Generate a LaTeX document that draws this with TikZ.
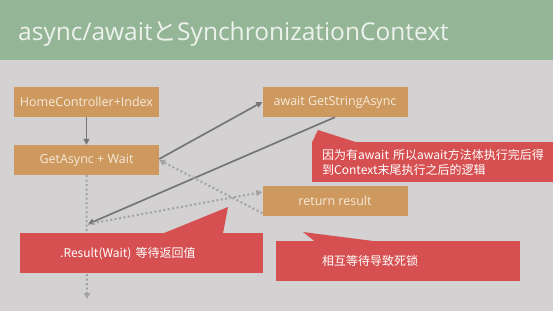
\documentclass[tikz,border=0pt]{standalone}
\usepackage{fontspec}
\setmainfont{Open Sans}
\newfontfamily\cjk{Noto Sans CJK SC}
\usetikzlibrary{arrows.meta}
\definecolor{TitleGreen}{RGB}{148,181,150}
\definecolor{TitleText}{RGB}{236,242,236}
\definecolor{SlideGray}{RGB}{211,209,209}
\definecolor{BoxOrange}{RGB}{206,153,94}
\definecolor{BoxText}{RGB}{246,234,218}
\definecolor{NoteRed}{RGB}{214,80,82}
\definecolor{ArrowGray}{RGB}{118,118,118}
\definecolor{DotGray}{RGB}{163,163,163}

\begin{document}
\begin{tikzpicture}[x=1pt, y=-1pt,
                box/.style={fill=BoxOrange, minimum width=145pt, minimum height=30pt, inner sep=0pt, text=BoxText, font=\fontsize{12.5}{14}\selectfont},
                note/.style={fill=NoteRed, anchor=north west, minimum height=40pt, inner ysep=0pt, align=left, text=white, font=\cjk\fontsize{12}{15}\selectfont},
                flow/.style={draw=ArrowGray, line width=1.7pt, -{Triangle[length=6pt, width=6pt]}},
                back/.style={draw=DotGray, line width=2pt, dash pattern=on 2pt off 2.5pt, -{Triangle[length=6pt, width=6pt]}}
            ]
                \clip (0,0) rectangle (553,311);
                % Slide background
                \fill[SlideGray] (0,0) rectangle (553,311);
                \fill[TitleGreen] (0,0) rectangle (553,60);
                \node[anchor=base west, inner sep=0pt, text=TitleText, font=\fontsize{24.5}{30}\selectfont] (title) at (18,40) {async/await{\cjk と}SynchronizationContext};

                % Call chain
                \node[box] (home) at (86.5,102) {HomeController+Index};
                \node[box] (getasync) at (86.5,160) {GetAsync + Wait};
                \node[box] (awaitgs) at (335,102) {await GetStringAsync};
                \node[box] (retres) at (335,201) {return result};
                \coordinate (waitpt) at (88,224);
                \coordinate (flowend) at (87,299);

                \draw[flow] (home) -- (getasync);
                \draw[flow] ([yshift=1pt]getasync.east) -- (awaitgs.west);
                \draw[flow] (awaitgs.south) -- (waitpt);
                \draw[back] ([yshift=3pt]retres.south west) -- (getasync.east);
                \draw[back] (waitpt) -- ([yshift=9pt]retres.west);
                \draw[back] (getasync.south) -- (flowend);

                % Notes
                \node[note, inner xsep=10pt, text width=231pt] (notectx) at (312,142) {因为有await 所以await方法体执行完后得\\到Context末尾执行之后的逻辑};
                \fill[NoteRed] ([yshift=-0.5pt]notectx.north west) -- (318,130) -- ([xshift=45pt, yshift=-0.5pt]notectx.north west) -- cycle;
                \node[note, inner xsep=40pt, text width=163pt] (noteresult) at (20,233) {.Result(Wait) 等待返回值};
                \fill[NoteRed] ([xshift=143pt, yshift=-0.5pt]noteresult.north west) -- (228,207) -- ([xshift=203pt, yshift=-0.5pt]noteresult.north west) -- cycle;
                \node[note, inner xsep=46pt, text width=152pt] (notelock) at (276,241) {相互等待导致死锁};
                \fill[NoteRed] ([xshift=39pt, yshift=-0.5pt]notelock.north west) -- (303,232) -- ([xshift=101pt, yshift=-0.5pt]notelock.north west) -- cycle;
            \end{tikzpicture}
\end{document}
